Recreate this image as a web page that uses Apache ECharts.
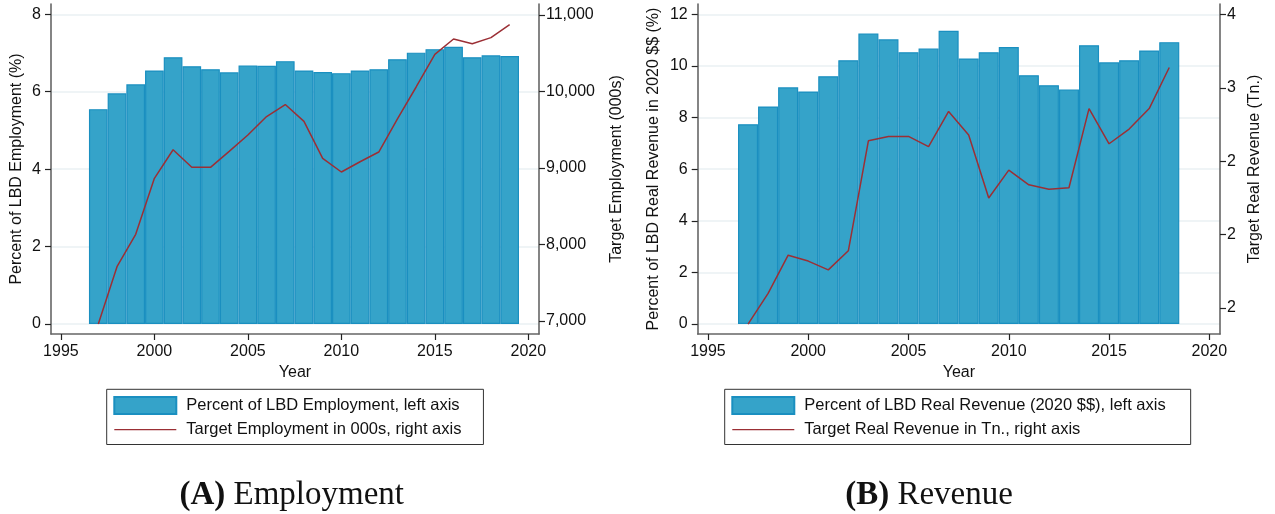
<!DOCTYPE html>
<html>
<head>
<meta charset="utf-8">
<script src="https://cdn.jsdelivr.net/npm/echarts@6/dist/echarts.min.js"></script>
<style>
  html, body { margin: 0; padding: 0; background: #fff; }
  #chart { width: 1275px; height: 514px; }
</style>
</head>
<body>
<div id="chart"></div>
<script>
// ---------- DATA ----------
const empYears = [1997,1998,1999,2000,2001,2002,2003,2004,2005,2006,2007,2008,2009,2010,2011,2012,2013,2014,2015,2016,2017,2018,2019];
const empShare = [5.55,5.96,6.19,6.55,6.89,6.66,6.58,6.50,6.68,6.67,6.79,6.55,6.51,6.48,6.55,6.58,6.84,7.01,7.10,7.16,6.89,6.94,6.92];
const empLevel = [6961,7710,8133,8865,9239,9009,9009,9218,9431,9673,9830,9610,9127,8948,9082,9209,9642,10059,10486,10686,10625,10704,10873];

const revYears = [1997,1998,1999,2000,2001,2002,2003,2004,2005,2006,2007,2008,2009,2010,2011,2012,2013,2014,2015,2016,2017,2018];
const revShare = [7.74,8.43,9.17,9.01,9.60,10.22,11.26,11.03,10.53,10.67,11.36,10.29,10.53,10.73,9.64,9.25,9.09,10.80,10.14,10.22,10.60,10.92];
const revLevel = [1.89,2.10,2.36,2.32,2.26,2.39,3.14,3.17,3.17,3.10,3.34,3.18,2.75,2.94,2.84,2.81,2.82,3.36,3.12,3.22,3.36,3.64];

const yearTicks = [1995,2000,2005,2010,2015,2020];
const empLeftTicks = [0,2,4,6,8];
const empRightTicks = [7000,8000,9000,10000,11000];
const empRightTickLabels = ['7,000','8,000','9,000','10,000','11,000'];
const revLeftTicks = [0,2,4,6,8,10,12];
const revRightTicks = [2,2.5,3,3.5,4];
const revRightTickLabels = ['2','2','2','3','4'];

const names = {
  empBar: 'Percent of LBD Employment, left axis',
  empLine: 'Target Employment in 000s, right axis',
  revBar: 'Percent of LBD Real Revenue (2020 $$), left axis',
  revLine: 'Target Real Revenue in Tn., right axis'
};
const captions = { a: 'Employment', b: 'Revenue' };

// ---------- STYLE ----------
const FONT = '"Liberation Sans", Arial, Helvetica, sans-serif';
const SERIF = '"Liberation Serif", "Times New Roman", serif';
const barFill = '#35a3c9';
const barEdge = '#1a8fc0';
const lineCol = '#9b2f35';
const axisCol = '#666666';
const tickCol = '#222222';
const gridCol = '#eaf1f3';
// thin horizontal line icon for the legend (corner points fix the box size)
const lineIcon = 'path://M0,0L0.01,0Z M0,7.9L62,7.9L62,9.3L0,9.3Z M0,17L0.01,17Z';

function pair(xs, ys) { return xs.map((x, i) => [x, ys[i]]); }
function labelFrom(ticks, labels) {
  return v => {
    let best = 0, d = Infinity;
    ticks.forEach((t, i) => { if (Math.abs(t - v) < d) { d = Math.abs(t - v); best = i; } });
    return labels[best];
  };
}

function xAxisDef(gridIndex, min, max) {
  return {
    type: 'value', gridIndex, min, max,
    name: 'Year', nameLocation: 'middle', nameGap: 30,
    nameTextStyle: { fontFamily: FONT, fontSize: 16, color: '#111' },
    axisLine: { show: true, onZero: false, lineStyle: { color: axisCol, width: 1.6 } },
    axisTick: { show: true, length: 6, customValues: yearTicks, lineStyle: { color: tickCol, width: 1.2 } },
    axisLabel: { customValues: yearTicks, margin: 10, fontFamily: FONT, fontSize: 16, color: '#111',
                 formatter: v => String(Math.round(v)) },
    splitLine: { show: false }
  };
}
function yAxisDef(opts) {
  return {
    type: 'value', gridIndex: opts.grid, position: opts.pos, min: opts.min, max: opts.max,
    name: opts.name, nameLocation: 'middle', nameGap: opts.gap, nameRotate: 90,
    nameTextStyle: { fontFamily: FONT, fontSize: 16, color: '#111' },
    axisLine: { show: true, onZero: false, lineStyle: { color: axisCol, width: 1.6 } },
    axisTick: { show: true, length: 6, customValues: opts.ticks, lineStyle: { color: tickCol, width: 1.2 } },
    axisLabel: { customValues: opts.ticks, margin: opts.margin, fontFamily: FONT, fontSize: 16, color: '#111',
                 formatter: opts.fmt || (v => String(v)) },
    splitLine: { show: opts.split, lineStyle: { color: gridCol, width: 1.5 } }
  };
}
function legendDef(barName, lineName, left, padRight) {
  return {
    data: [
      { name: barName, icon: 'rect' },
      { name: lineName, icon: lineIcon, itemStyle: { color: lineCol, borderWidth: 0 } }
    ],
    orient: 'vertical', left, top: 389.3,
    padding: [6.7, padRight, 6.5, 6.6], itemWidth: 62, itemHeight: 17, itemGap: 6,
    borderColor: '#333', borderWidth: 1, selectedMode: false,
    textStyle: { fontFamily: FONT, fontSize: 16.5, color: '#111', padding: [0, 0, 0, 5] }
  };
}

const option = {
  animation: false,
  backgroundColor: '#ffffff',
  grid: [
    { left: 51, top: 4, width: 488, height: 330 },
    { left: 697.7, top: 4, width: 522.3, height: 330 }
  ],
  xAxis: [
    xAxisDef(0, 1994.47, 2020.57),
    xAxisDef(1, 1994.49, 2020.53)
  ],
  yAxis: [
    yAxisDef({ grid: 0, pos: 'left', min: -0.258, max: 8.266, ticks: empLeftTicks, name: 'Percent of LBD Employment (%)', gap: 26, margin: 10, split: true }),
    yAxisDef({ grid: 0, pos: 'right', min: 6830, max: 11144, ticks: empRightTicks, name: 'Target Employment (000s)', gap: 70, margin: 7, split: false,
               fmt: labelFrom(empRightTicks, empRightTickLabels) }),
    yAxisDef({ grid: 1, pos: 'left', min: -0.387, max: 12.399, ticks: revLeftTicks, name: 'Percent of LBD Real Revenue in 2020 $$ (%)', gap: 36, margin: 10, split: true }),
    yAxisDef({ grid: 1, pos: 'right', min: 1.8227, max: 4.073, ticks: revRightTicks, name: 'Target Real Revenue (Tn.)', gap: 27, margin: 7, split: false,
               fmt: labelFrom(revRightTicks, revRightTickLabels) })
  ],
  legend: [
    legendDef(names.empBar, names.empLine, 106.7, 22),
    legendDef(names.revBar, names.revLine, 724.7, 25)
  ],
  series: [
    { name: names.empBar, type: 'bar', xAxisIndex: 0, yAxisIndex: 0, barWidth: 18.7,
      data: pair(empYears, empShare),
      itemStyle: { color: barFill, borderColor: barEdge, borderWidth: 1.2 } },
    { name: names.empLine, type: 'line', xAxisIndex: 0, yAxisIndex: 1, symbol: 'none', showSymbol: false,
      data: pair(empYears, empLevel), z: 5,
      lineStyle: { color: lineCol, width: 1.5 }, itemStyle: { color: lineCol } },
    { name: names.revBar, type: 'bar', xAxisIndex: 1, yAxisIndex: 2, barWidth: 20.05,
      data: pair(revYears, revShare),
      itemStyle: { color: barFill, borderColor: barEdge, borderWidth: 1.2 } },
    { name: names.revLine, type: 'line', xAxisIndex: 1, yAxisIndex: 3, symbol: 'none', showSymbol: false,
      data: pair(revYears, revLevel), z: 5,
      lineStyle: { color: lineCol, width: 1.5 }, itemStyle: { color: lineCol } }
  ],
  graphic: [
    { type: 'text', x: 291.7, y: 495,
      style: { text: '{b|(A)} ' + captions.a, align: 'center', verticalAlign: 'middle',
               fontFamily: SERIF, fontSize: 33, fill: '#111',
               rich: { b: { fontFamily: SERIF, fontSize: 33, fontWeight: 'bold', fill: '#111' } } } },
    { type: 'text', x: 929, y: 495,
      style: { text: '{b|(B)} ' + captions.b, align: 'center', verticalAlign: 'middle',
               fontFamily: SERIF, fontSize: 33, fill: '#111',
               rich: { b: { fontFamily: SERIF, fontSize: 33, fontWeight: 'bold', fill: '#111' } } } }
  ]
};

const chart = echarts.init(document.getElementById('chart'), null, { renderer: 'canvas' });
chart.setOption(option);
</script>
</body>
</html>
